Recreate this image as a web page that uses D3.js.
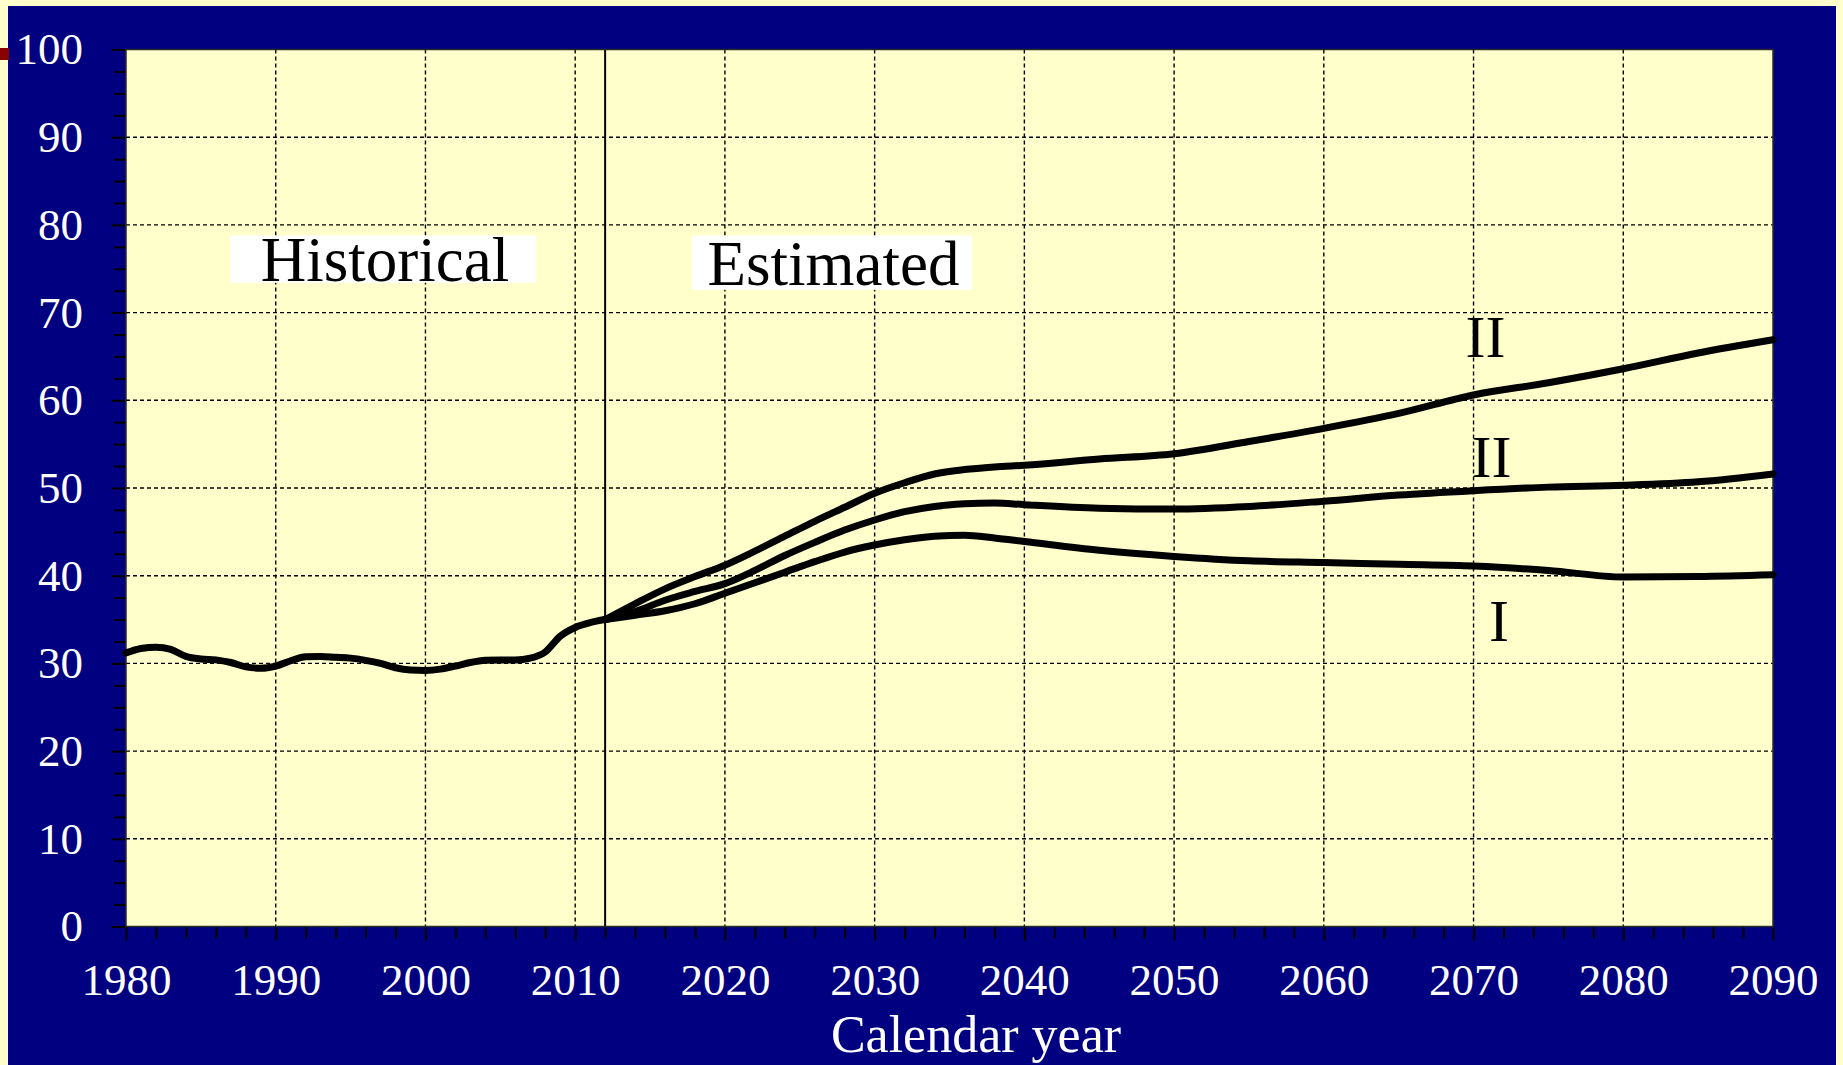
<!DOCTYPE html>
<html>
<head>
<meta charset="utf-8">
<script src="https://cdn.jsdelivr.net/npm/d3@7"></script>
<style>
  body { margin: 0; background: #ffffcc; }
  svg { display: block; }
  text { font-family: "Liberation Serif", "Times New Roman", serif; }
</style>
</head>
<body>
<svg id="chart"></svg>
<script>
// historical series
const histYears = [1980, 1981, 1982, 1983, 1984, 1985, 1986, 1987, 1988, 1989, 1990, 1991, 1992, 1993, 1994, 1995, 1996,
    1997, 1998, 1999, 2000, 2001, 2002, 2003, 2004, 2005, 2006, 2007, 2008, 2009, 2010, 2011, 2012];
const histValues = [31.2, 31.7, 31.85, 31.6, 30.8, 30.5, 30.4, 30.1, 29.6, 29.45, 29.7, 30.3, 30.75, 30.8, 30.7, 30.6, 30.35,
    30.0, 29.5, 29.25, 29.2, 29.35, 29.7, 30.1, 30.35, 30.4, 30.4, 30.6, 31.3, 33.1, 34.1, 34.65, 35.0];

// estimated series
const estYears = [2012, 2014, 2016, 2018, 2020, 2022, 2024, 2026, 2028, 2030, 2032, 2034, 2036, 2038, 2040,
    2045, 2050, 2055, 2060, 2065, 2070, 2075, 2080, 2085, 2090];
const highValues = [35.0, 36.8, 38.5, 39.9, 41.2, 42.8, 44.5, 46.2, 47.8, 49.4, 50.6, 51.6, 52.1, 52.4, 52.6,
    53.3, 53.9, 55.3, 56.8, 58.5, 60.6, 62.0, 63.6, 65.4, 66.9];
const midValues = [35.0, 35.9, 37.2, 38.2, 39.1, 40.6, 42.3, 43.8, 45.2, 46.35, 47.3, 47.9, 48.2, 48.3, 48.1,
    47.7, 47.6, 47.9, 48.5, 49.2, 49.7, 50.1, 50.3, 50.7, 51.6];
const lowValues = [35.0, 35.5, 36.0, 36.8, 38.0, 39.2, 40.4, 41.6, 42.7, 43.5, 44.1, 44.5, 44.6, 44.3, 43.9,
    42.9, 42.2, 41.7, 41.5, 41.3, 41.1, 40.6, 39.85, 39.9, 40.1];

const xTicks = [1980, 1990, 2000, 2010, 2020, 2030, 2040, 2050, 2060, 2070, 2080, 2090];
const yTicks = [0, 10, 20, 30, 40, 50, 60, 70, 80, 90, 100];
const splitYear = 2012;

const width = 1843;
const height = 1065;
const plotLeft = 126, plotRight = 1773, plotTop = 49.5, plotBottom = 926.5;

const svg = d3.select("#chart")
    .attr("width", width)
    .attr("height", height);

// slide frame
svg.append("rect").attr("x", 0).attr("y", 0).attr("width", width).attr("height", height).attr("fill", "#ffffcc");
svg.append("rect").attr("x", 8).attr("y", 6).attr("width", 1828).attr("height", height - 6).attr("fill", "#000080");
svg.append("rect").attr("x", 0).attr("y", 48).attr("width", 9).attr("height", 12).attr("fill", "#8b0000");

const xScale = d3.scaleLinear().domain([1980, 2090]).range([plotLeft, plotRight]);
const yScale = d3.scaleLinear().domain([0, 100]).range([plotBottom, plotTop]);

svg.append("rect")
    .attr("x", plotLeft).attr("y", plotTop)
    .attr("width", plotRight - plotLeft).attr("height", plotBottom - plotTop)
    .attr("fill", "#ffffcc");

// grid
const grid = svg.append("g").attr("stroke", "#000").attr("stroke-width", 1.4).attr("stroke-dasharray", "4,3");
grid.selectAll(".gx")
    .data(xTicks.slice(1, -1))
    .enter().append("line")
    .attr("x1", d => xScale(d)).attr("x2", d => xScale(d))
    .attr("y1", plotTop).attr("y2", plotBottom);
grid.selectAll(".gy")
    .data(yTicks.slice(1, -1))
    .enter().append("line")
    .attr("x1", plotLeft).attr("x2", plotRight)
    .attr("y1", d => yScale(d)).attr("y2", d => yScale(d));

// split line
svg.append("line")
    .attr("x1", xScale(splitYear)).attr("x2", xScale(splitYear))
    .attr("y1", plotTop).attr("y2", plotBottom)
    .attr("stroke", "#000").attr("stroke-width", 2);

// axes
const xMinor = d3.range(1980, 2091, 2).filter(d => d % 10 !== 0);
const yMinor = d3.range(0, 100, 2.5).filter(d => d % 10 !== 0);

svg.append("g")
    .attr("transform", `translate(0, ${plotBottom})`)
    .call(d3.axisBottom(xScale).tickValues(xTicks).tickFormat(d3.format("d")).tickSize(14).tickPadding(23));
svg.append("g")
    .attr("transform", `translate(0, ${plotBottom})`)
    .call(d3.axisBottom(xScale).tickValues(xMinor).tickFormat("").tickSize(12));

svg.append("g")
    .attr("transform", `translate(${plotLeft}, 0)`)
    .call(d3.axisLeft(yScale).tickValues(yTicks).tickSize(14).tickPadding(29));
svg.append("g")
    .attr("transform", `translate(${plotLeft}, 0)`)
    .call(d3.axisLeft(yScale).tickValues(yMinor).tickFormat("").tickSize(12));

svg.selectAll(".domain").remove();
svg.selectAll(".tick line").attr("stroke", "#000").attr("stroke-width", 2);
svg.selectAll(".tick text")
    .attr("fill", "#fff")
    .style("font-family", "'Liberation Serif', serif")
    .style("font-size", "45px");

// plot border
svg.append("rect")
    .attr("x", plotLeft).attr("y", plotTop)
    .attr("width", plotRight - plotLeft).attr("height", plotBottom - plotTop)
    .attr("fill", "none").attr("stroke", "#2a2a2a").attr("stroke-width", 1.5);

// lines
const line = d3.line()
    .x(d => xScale(d[0]))
    .y(d => yScale(d[1]))
    .curve(d3.curveMonotoneX);

const series = [
    d3.zip(histYears, histValues),
    d3.zip(estYears, lowValues),
    d3.zip(estYears, midValues),
    d3.zip(estYears, highValues)
];

svg.append("g").selectAll("path")
    .data(series)
    .enter().append("path")
    .attr("d", line)
    .attr("fill", "none")
    .attr("stroke", "#000")
    .attr("stroke-width", 7)
    .attr("stroke-linejoin", "round")
    .attr("stroke-linecap", "round");

// period labels
const periods = [
    { text: "Historical", x: 1989.0, y: 73.6, box: [1986.97, 2007.4, 78.8, 73.4] },
    { text: "Estimated", x: 2018.84, y: 73.1, box: [2017.8, 2036.5, 78.8, 72.6] }
];
periods.forEach(p => {
    svg.append("rect")
        .attr("x", xScale(p.box[0]))
        .attr("y", yScale(p.box[2]))
        .attr("width", xScale(p.box[1]) - xScale(p.box[0]))
        .attr("height", yScale(p.box[3]) - yScale(p.box[2]))
        .attr("fill", "#fff");
    svg.append("text")
        .attr("x", xScale(p.x))
        .attr("y", yScale(p.y))
        .attr("font-size", 63)
        .attr("fill", "#000")
        .text(p.text);
});

// scenario labels
const scenarioLabels = [
    { text: "II", x: 2070.8, y: 64.9 },
    { text: "II", x: 2071.2, y: 51.3 },
    { text: "I", x: 2071.7, y: 32.5 }
];
svg.selectAll(".scen")
    .data(scenarioLabels)
    .enter().append("text")
    .attr("x", d => xScale(d.x))
    .attr("y", d => yScale(d.y))
    .attr("text-anchor", "middle")
    .attr("font-size", 60)
    .attr("fill", "#000")
    .text(d => d.text);

// axis title
svg.append("text")
    .attr("x", 976)
    .attr("y", 1052)
    .attr("text-anchor", "middle")
    .attr("font-size", 52)
    .attr("fill", "#fff")
    .text("Calendar year");
</script>
</body>
</html>
